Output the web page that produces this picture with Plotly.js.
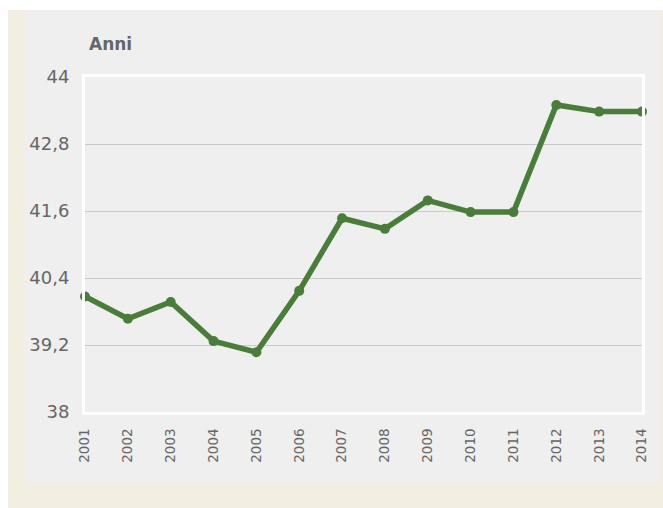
<!DOCTYPE html>
<html><head><meta charset="utf-8">
<script src="https://cdn.plot.ly/plotly-3.0.1.min.js"></script>
<style>html,body{margin:0;padding:0;background:#fff}#c{width:663px;height:508px}</style>
</head><body><div id="c"></div>
<script>
const years = [2001,2002,2003,2004,2005,2006,2007,2008,2009,2010,2011,2012,2013,2014];
const values = [40.07,39.67,39.97,39.27,39.07,40.17,41.47,41.28,41.79,41.58,41.58,43.5,43.38,43.38];
const yTickVals = [38,39.2,40.4,41.6,42.8,44];
const yTickText = ["38","39,2","40,4","41,6","42,8","44"];
const xTickText = years.map(String);

const W=663,H=508,L=85,R=21,T=77,B=96;
const pw=W-L-R, ph=H-T-B;
const px=x=>(x-L)/pw, py=y=>(H-B-y)/ph;

const trace={x:years,y:values,type:'scatter',mode:'lines+markers',
  line:{color:'#4a7d3a',width:5.5},marker:{color:'#4a7d3a',size:10},cliponaxis:false,hoverinfo:'skip'};

const layout={width:W,height:H,margin:{l:L,r:R,t:T,b:B},
  paper_bgcolor:'#ffffff',plot_bgcolor:'#efefef',showlegend:false,
  font:{family:'"DejaVu Sans", Verdana, sans-serif',color:'#666666'},
  xaxis:{range:[2001,2014],tickvals:years,ticktext:xTickText,tickangle:-90,
    tickfont:{size:13.5,color:'#666666'},showgrid:false,zeroline:false,
    showline:true,linecolor:'#ffffff',linewidth:3,mirror:true,ticks:'outside',ticklen:8,tickcolor:'rgba(0,0,0,0)'},
  yaxis:{range:[38,44],tickvals:yTickVals,ticktext:yTickText,
    tickfont:{size:18,color:'#666666'},showgrid:true,gridcolor:'#c9c9c9',gridwidth:1,
    zeroline:false,showline:true,linecolor:'#ffffff',linewidth:3,mirror:true,ticks:'outside',ticklen:9,tickcolor:'rgba(0,0,0,0)'},
  shapes:[
    {type:'rect',xref:'paper',yref:'paper',x0:px(8),x1:px(663),y0:py(10),y1:py(508),fillcolor:'#f2eee2',line:{width:0},layer:'below'},
    {type:'rect',xref:'paper',yref:'paper',x0:px(25),x1:px(660),y0:py(10),y1:py(483),fillcolor:'#efefef',line:{width:0},layer:'below'}
  ],
  annotations:[{text:'<b>Anni</b>',xref:'paper',yref:'paper',x:px(87),y:py(44),xanchor:'left',yanchor:'middle',
    showarrow:false,font:{size:17,color:'#666666'}}]
};
Plotly.newPlot('c',[trace],layout,{displayModeBar:false,staticPlot:true});
</script></body></html>
